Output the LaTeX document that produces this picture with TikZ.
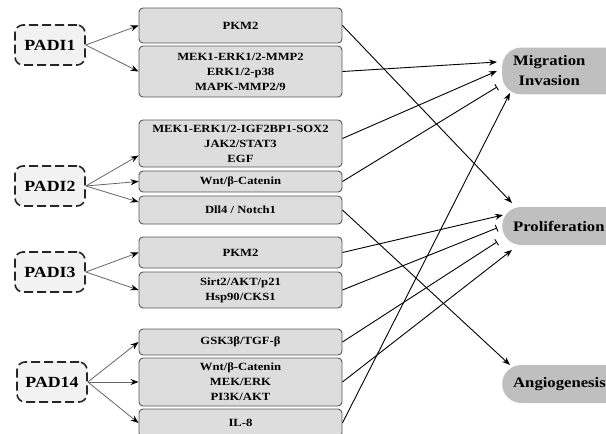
\documentclass[tikz,border=0pt]{standalone}
\usepackage{fontspec}
\setmainfont[FakeStretch=1.15, BoldFeatures={FakeStretch=1.15}]{Liberation Serif}
\usetikzlibrary{arrows.meta}

\tikzset{%
   padi box/.style={
    draw=black!85, dash pattern=on 9pt off 4pt, line width=1.6pt,
    rounded corners=8pt, fill=gray!10,
    minimum width=70pt, minimum height=40pt,
    font=\fontsize{15.5}{17}\selectfont\bfseries
  },
   path box/.style={
    draw=black!65, line width=0.9pt, rounded corners=4pt, fill=gray!27,
    minimum width=203pt, inner sep=1pt, align=center,
    font=\fontsize{11}{15}\selectfont\bfseries
  },
   effect/.style={
    fill=gray!50, rounded corners=19pt, minimum height=38pt,
    anchor=west, inner xsep=11pt, text width=110pt, align=left,
    font=\fontsize{14.5}{20}\selectfont\bfseries
  },
   link/.style={draw=black!60, line width=0.8pt, -{Stealth[length=8pt,width=6pt,color=black]}},
   promote/.style={line width=0.9pt, -{Stealth[length=8pt,width=6pt]}},
   inhibit/.style={line width=0.9pt, -{Bar[width=7pt]}},
}

\begin{document}
\begin{tikzpicture}[x=1pt, y=-1pt]
\useasboundingbox (0,0) rectangle (606,434);
%=========================================================================================================
% PADI enzymes
%=========================================================================================================

%Dashed boxes on the left
\foreach \t/\x/\y [count=\i] in {PADI1/50/45, PADI2/50/186, PADI3/50/272, PAD14/52/382}
  \node [padi box] (padi-\i) at (\x,\y) {\t};

%=========================================================================================================
% Pathways
%=========================================================================================================

%Column of gray boxes, given by centre y / height / text
\foreach \y/\h/\t [count=\i] in {
  25.5/35/PKM2,
  71.5/51/{MEK1-ERK1/2-MMP2\\ERK1/2-p38\\MAPK-MMP2/9},
  143.5/47/{MEK1-ERK1/2-IGF2BP1-SOX2\\JAK2/STAT3\\EGF},
  181.5/21/{Wnt/β-Catenin},
  210/28/{Dll4 / Notch1},
  252.5/31/PKM2,
  290/36/{Sirt2/AKT/p21\\Hsp90/CKS1},
  342/26/{GSK3β/TGF-β},
  382/48/{Wnt/β-Catenin\\MEK/ERK\\PI3K/AKT},
  423/28/IL-8}
  \node [path box, minimum height=\h pt] (path-\i) at (240.5,\y) {\t};

%=========================================================================================================
% Effects
%=========================================================================================================

\node [effect] (mig) at (502,71) {\begin{tabular}{@{}c@{}}Migration\\Invasion\end{tabular}};
\node [effect] (prolif) at (502,226) {Proliferation};
\node [effect] (angio) at (502,384) {Angiogenesis};

%=========================================================================================================
% Draw connections
%=========================================================================================================
%PADI to pathways
\foreach \p/\b in {1/1, 1/2, 2/4, 3/6, 3/7, 4/8, 4/9, 4/10}
  \draw [link] (padi-\p.east) -- (path-\b.west);
\draw [link] (padi-2.east) -- ([yshift=-12pt]path-3.west);
\draw [link] (padi-2.east) -- ([yshift=8pt]path-5.west);

%Pathways to effects
\draw [promote] (path-1.east) -- ([xshift=10pt,yshift=23pt]prolif.west);
\draw [promote] (path-2.east) -- ([xshift=-5pt,yshift=9pt]mig.west);
\draw [promote] ([yshift=5pt]path-3.east) -- ([xshift=-5pt]mig.west);
\draw [inhibit] (path-4.east) -- ([xshift=-5pt,yshift=-16pt]mig.west);
\draw [promote] (path-5.east) -- ([xshift=8pt,yshift=19pt]angio.west);
\draw [promote] (path-6.east) -- ([xshift=1pt,yshift=11pt]prolif.west);
\draw [inhibit] (path-7.east) -- ([xshift=-5pt,yshift=-2pt]prolif.west);
\draw [inhibit] (path-8.east) -- ([xshift=-5pt,yshift=-16pt]prolif.west);
\draw [promote] (path-9.east) -- ([xshift=10pt,yshift=-24pt]prolif.west);
\draw [promote] (path-10.east) -- ([xshift=8pt,yshift=-22pt]mig.west);

\end{tikzpicture}
\end{document}
